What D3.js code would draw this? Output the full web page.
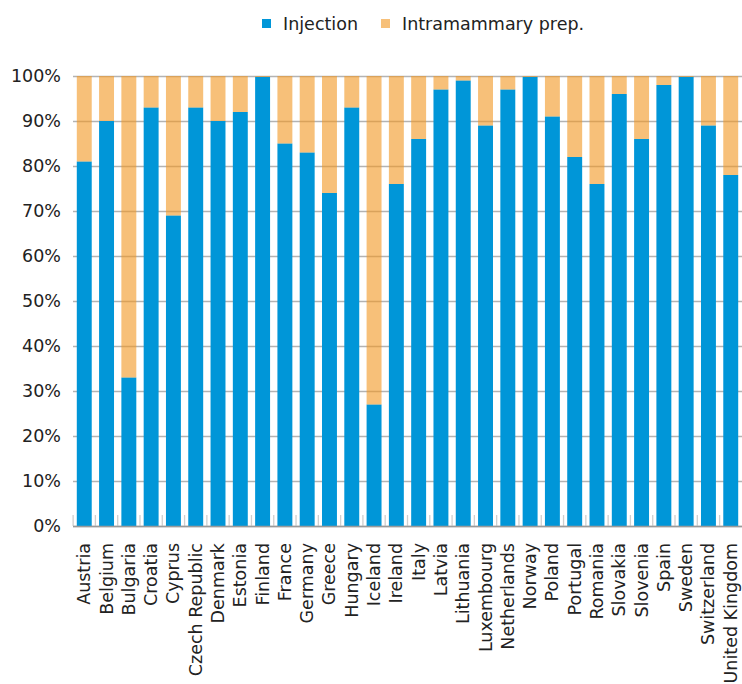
<!DOCTYPE html>
<html>
<head>
<meta charset="utf-8">
<script src="https://cdn.jsdelivr.net/npm/d3@7"></script>
<style>
  body { margin: 0; background: #fff; }
  text { font-family: "DejaVu Sans", Verdana, sans-serif; fill: #222; }
</style>
</head>
<body>
<div id="chart-area"></div>
<script>
const countries = ["Austria", "Belgium", "Bulgaria", "Croatia", "Cyprus", "Czech Republic",
  "Denmark", "Estonia", "Finland", "France", "Germany", "Greece", "Hungary", "Iceland",
  "Ireland", "Italy", "Latvia", "Lithuania", "Luxembourg", "Netherlands", "Norway",
  "Poland", "Portugal", "Romania", "Slovakia", "Slovenia", "Spain", "Sweden",
  "Switzerland", "United Kingdom"]

// share of sales (%) by pharmaceutical form
const injection = [81, 90, 33, 93, 69, 93, 90, 92, 99.8, 85, 83, 74, 93, 27, 76, 86, 97,
  99, 89, 97, 99.8, 91, 82, 76, 96, 86, 98, 99.8, 89, 78]
const intramammary = injection.map(v => +(100 - v).toFixed(1))

const seriesNames = ["Injection", "Intramammary prep."]
const yTicks = [0, 10, 20, 30, 40, 50, 60, 70, 80, 90, 100]

const BLUE = "#0096d8"
const ORANGE = "#f29620"
const ORANGE_OPACITY = 0.6

const MARGIN = { LEFT: 73, RIGHT: 0, TOP: 76, BOTTOM: 158 }
const WIDTH = 742 - MARGIN.LEFT - MARGIN.RIGHT
const HEIGHT = 684 - MARGIN.TOP - MARGIN.BOTTOM

const svg = d3.select("#chart-area").append("svg")
  .attr("width", 742)
  .attr("height", 684)

const g = svg.append("g")
  .attr("transform", `translate(${MARGIN.LEFT}, ${MARGIN.TOP})`)

// scales
const x = d3.scaleBand()
  .domain(countries)
  .range([0, WIDTH])
  .paddingInner(0.33)
  .paddingOuter(0.17)
const y = d3.scaleLinear().domain([0, 100]).range([HEIGHT, 0])

// y axis with gridlines
const yAxis = g.append("g")
  .attr("class", "y axis")
  .call(d3.axisLeft(y)
    .tickValues(yTicks)
    .tickSizeInner(-WIDTH)
    .tickSizeOuter(0)
    .tickPadding(12)
    .tickFormat(d => d + "%"))
yAxis.select(".domain").remove()
yAxis.selectAll("line")
  .attr("stroke", "#b3b3b3")
  .attr("stroke-width", 1.3)
yAxis.selectAll("text")
  .attr("font-size", "17.5px")
  .attr("fill", "#222")

// stacked bars
const stackData = countries.map((c, i) => ({ country: c, inj: injection[i], intra: intramammary[i] }))

g.selectAll(".bar-inj")
  .data(stackData)
  .enter().append("rect")
  .attr("class", "bar-inj")
  .attr("x", d => x(d.country))
  .attr("width", x.bandwidth())
  .attr("y", d => y(d.inj))
  .attr("height", d => HEIGHT - y(d.inj))
  .attr("fill", BLUE)

g.selectAll(".bar-intra")
  .data(stackData)
  .enter().append("rect")
  .attr("class", "bar-intra")
  .attr("x", d => x(d.country))
  .attr("width", x.bandwidth())
  .attr("y", d => y(d.inj + d.intra))
  .attr("height", d => y(d.inj) - y(d.inj + d.intra))
  .attr("fill", ORANGE)
  .attr("fill-opacity", ORANGE_OPACITY)

// x axis: baseline, boundary ticks and rotated labels
const xAxis = g.append("g")
  .attr("class", "x axis")
  .attr("transform", `translate(0, ${HEIGHT})`)

const half = x.step() * x.paddingInner() / 2
const bounds = countries.map(c => x(c) - half)

xAxis.selectAll(".tick-line")
  .data(bounds)
  .enter().append("line")
  .attr("x1", d => d)
  .attr("x2", d => d)
  .attr("y1", -11)
  .attr("y2", 0)
  .attr("stroke", "#cfcfcf")
  .attr("stroke-width", 1.3)

xAxis.append("line")
  .attr("x1", 0)
  .attr("x2", WIDTH)
  .attr("y1", 0.5)
  .attr("y2", 0.5)
  .attr("stroke", "#9a9a9a")
  .attr("stroke-width", 1.3)

xAxis.selectAll(".x-label")
  .data(countries)
  .enter().append("text")
  .attr("class", "x-label")
  .attr("transform", d => `translate(${x(d) + x.bandwidth() / 2 + 6}, 17) rotate(-90)`)
  .attr("text-anchor", "end")
  .attr("font-size", "17.5px")
  .text(d => d)

// legend
const legend = svg.append("g").attr("class", "legend")
const legendItems = [
  { name: seriesNames[0], color: BLUE, op: 1, x: 262 },
  { name: seriesNames[1], color: ORANGE, op: ORANGE_OPACITY, x: 381 }
]
legendItems.forEach(d => {
  legend.append("rect")
    .attr("x", d.x)
    .attr("y", 19)
    .attr("width", 9)
    .attr("height", 9)
    .attr("fill", d.color)
    .attr("fill-opacity", d.op)
  legend.append("text")
    .attr("x", d.x + 21)
    .attr("y", 30)
    .attr("font-size", "17.5px")
    .text(d.name)
})
</script>
</body>
</html>
